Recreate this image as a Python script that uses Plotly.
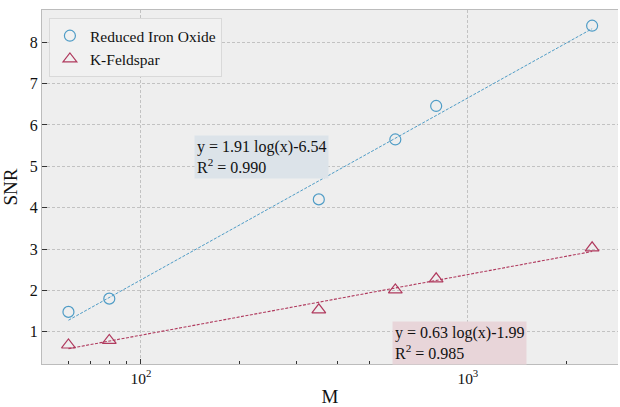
import numpy as np
import plotly.graph_objects as go

# Data
m_iron = [60, 80, 350, 600, 800, 2400]
snr_iron = [1.48, 1.80, 4.20, 5.65, 6.46, 8.40]
m_kf = [60, 80, 350, 600, 800, 2400]
snr_kf = [0.68, 0.79, 1.53, 2.01, 2.28, 3.03]
label_iron = "Reduced Iron Oxide"
label_kf = "K-Feldspar"
eq_iron = "y = 1.91 log(x)-6.54<br>R<sup>2</sup> = 0.990"
eq_kf = "y = 0.63 log(x)-1.99<br>R<sup>2</sup> = 0.985"
y_ticks = [1, 2, 3, 4, 5, 6, 7, 8]
x_major = [100, 1000]
x_major_text = ["10<sup>2</sup>", "10<sup>3</sup>"]
x_minor = [60, 70, 80, 90, 200, 300, 400, 500, 600, 700, 800, 900, 2000]

BLUE = "#4f9cc6"
RED = "#b03a5e"
FONT = "Liberation Serif, DejaVu Serif, serif"
GRID = "#c2c2c2"


def fit_line(xs, ys):
    lx = np.log(np.array(xs, dtype=float))
    a, b = np.polyfit(lx, np.array(ys, dtype=float), 1)
    xe = np.array([min(xs), max(xs)], dtype=float)
    return xe, a * np.log(xe) + b


fig = go.Figure()
xi, yi = fit_line(m_iron, snr_iron)
xk, yk = fit_line(m_kf, snr_kf)
fig.add_trace(go.Scatter(x=xi, y=yi, mode="lines", showlegend=False,
                         line=dict(color=BLUE, width=1, dash="3px,1.5px")))
fig.add_trace(go.Scatter(x=xk, y=yk, mode="lines", showlegend=False,
                         line=dict(color=RED, width=1.1, dash="3px,1.5px")))
fig.add_trace(go.Scatter(x=m_iron, y=snr_iron, mode="markers", name=label_iron,
                         marker=dict(symbol="circle-open", size=11, color=BLUE,
                                     line=dict(width=1.2, color=BLUE))))
fig.add_trace(go.Scatter(x=m_kf, y=snr_kf, mode="markers", name=label_kf,
                         marker=dict(symbol="triangle-up-open", size=12, color=RED,
                                     line=dict(width=1.2, color=RED))))

fig.add_annotation(x=0.264, y=0.647, xref="paper", yref="paper", xanchor="left",
                   yanchor="top", text=eq_iron, showarrow=False, align="left",
                   font=dict(family=FONT, size=16, color="#111"),
                   bgcolor="#dce3e9", borderpad=2)
fig.add_annotation(x=0.608, y=0.122, xref="paper", yref="paper", xanchor="left",
                   yanchor="top", text=eq_kf, showarrow=False, align="left",
                   font=dict(family=FONT, size=16, color="#111"),
                   bgcolor="#e8d5d9", borderpad=2)

fig.update_layout(
    width=620, height=407,
    margin=dict(l=42, r=2, t=10, b=43),
    paper_bgcolor="white", plot_bgcolor="#eeeeee",
    font=dict(family=FONT, size=16, color="#111"),
    legend=dict(x=0.012, y=0.977, xanchor="left", yanchor="top",
                bgcolor="#f1f1f1", bordercolor="#d9d9d9", borderwidth=1,
                font=dict(family=FONT, size=15.5), itemwidth=30,
                tracegroupgap=2),
    xaxis=dict(type="log", range=[np.log10(49.8), np.log10(2880)],
               tickmode="array", tickvals=x_major, ticktext=x_major_text,
               ticks="inside", ticklen=5, tickcolor="#333",
               showgrid=True, gridcolor=GRID, griddash="3px,2px", gridwidth=1,
               showline=True, linecolor="#bcbcbc", linewidth=1.2, mirror=True,
               zeroline=False,
               minor=dict(tickmode="array", tickvals=x_minor, ticks="inside",
                          ticklen=3, tickcolor="#333", showgrid=False),
               title=dict(text="M", font=dict(family=FONT, size=19), standoff=6),
               tickfont=dict(family=FONT, size=15.5)),
    yaxis=dict(range=[0.22, 8.78], tickmode="array", tickvals=y_ticks,
               ticks="inside", ticklen=5, tickcolor="#333",
               showgrid=True, gridcolor=GRID, griddash="3px,2px", gridwidth=1,
               showline=True, linecolor="#bcbcbc", linewidth=1.2,
               zeroline=False,
               title=dict(text="SNR", font=dict(family=FONT, size=19), standoff=8),
               tickfont=dict(family=FONT, size=16)),
)

fig.write_html("out.html")
